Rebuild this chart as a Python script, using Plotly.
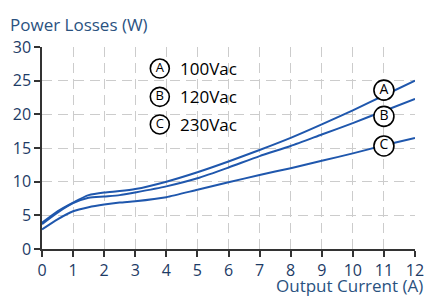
import plotly.graph_objects as go

current = [0, 0.5, 1, 1.5, 2, 2.5, 3, 4, 5, 6, 7, 8, 9, 10, 11, 12]
loss_100vac = [3.9, 5.6, 6.9, 8.0, 8.4, 8.6, 8.9, 10.0, 11.4, 13.0, 14.7, 16.5, 18.5, 20.6, 22.8, 25.0]
loss_120vac = [3.7, 5.4, 6.8, 7.6, 7.8, 8.0, 8.4, 9.3, 10.5, 12.1, 13.8, 15.3, 17.0, 18.7, 20.5, 22.3]
loss_230vac = [2.9, 4.4, 5.6, 6.2, 6.6, 6.9, 7.1, 7.7, 8.8, 9.9, 11.0, 12.0, 13.1, 14.2, 15.4, 16.5]

series_letters = ["A", "B", "C"]
series_names = ["100Vac", "120Vac", "230Vac"]
x_ticks = list(range(0, 13))
y_ticks = [0, 5, 10, 15, 20, 25, 30]

LINE = "#1f57ad"
LABEL = "#1d3b66"
TITLE = "#2a527f"
FONT = "Open Sans"

fig = go.Figure()
for ys in [loss_100vac, loss_120vac, loss_230vac]:
    fig.add_trace(go.Scatter(x=current, y=ys, mode="lines",
                             line=dict(color=LINE, width=2, shape="spline", smoothing=0.6),
                             showlegend=False, hoverinfo="skip"))

# circled letter labels near the right end of the curves
end_x = 11
end_y = [23.6, 19.7, 15.3]
fig.add_trace(go.Scatter(x=[end_x] * 3, y=end_y, mode="markers+text",
                         text=series_letters, textposition="middle center",
                         textfont=dict(family=FONT, size=14, color="black"),
                         marker=dict(size=20, color="white", line=dict(color="black", width=1.6)),
                         showlegend=False, hoverinfo="skip", cliponaxis=False))

# legend block
leg_x = 3.79
leg_y = [26.8, 22.6, 18.5]
fig.add_trace(go.Scatter(x=[leg_x] * 3, y=leg_y, mode="markers+text",
                         text=series_letters, textposition="middle center",
                         textfont=dict(family=FONT, size=13, color="black"),
                         marker=dict(size=19, color="white", line=dict(color="black", width=1.6)),
                         showlegend=False, hoverinfo="skip"))
for name, yy in zip(series_names, leg_y):
    fig.add_annotation(x=leg_x + 0.58, y=yy, text=name, showarrow=False,
                       xanchor="left", yanchor="middle",
                       font=dict(family=FONT, size=17, color="black"))

fig.add_annotation(xref="paper", yref="paper", x=-0.09, y=1.045, text="Power Losses (W)",
                   showarrow=False, xanchor="left", yanchor="bottom",
                   font=dict(family=FONT, size=17, color=TITLE))
fig.add_annotation(xref="paper", yref="paper", x=1.027, y=-0.248, text="Output Current (A)",
                   showarrow=False, xanchor="right", yanchor="bottom",
                   font=dict(family=FONT, size=17, color=TITLE))

axis_common = dict(showgrid=True, gridcolor="#cccccc", griddash="10px,6px", gridwidth=1,
                   showline=True, linecolor="#333333", linewidth=1.5,
                   ticks="outside", ticklen=6, tickcolor="#333333", tickwidth=1.5,
                   tickfont=dict(family=FONT, size=16, color=LABEL), zeroline=False,
                   automargin=False)

fig.update_xaxes(range=[0, 12], tickvals=x_ticks, **axis_common)
fig.update_yaxes(range=[0, 30], tickvals=y_ticks, **axis_common)

fig.update_layout(width=425, height=298, margin=dict(l=42, r=10, t=47, b=49),
                  plot_bgcolor="white", paper_bgcolor="white", showlegend=False)

fig.write_html("out.html", config={"displayModeBar": False},
               post_script="document.body.style.margin='0';document.body.style.overflow='hidden';")
